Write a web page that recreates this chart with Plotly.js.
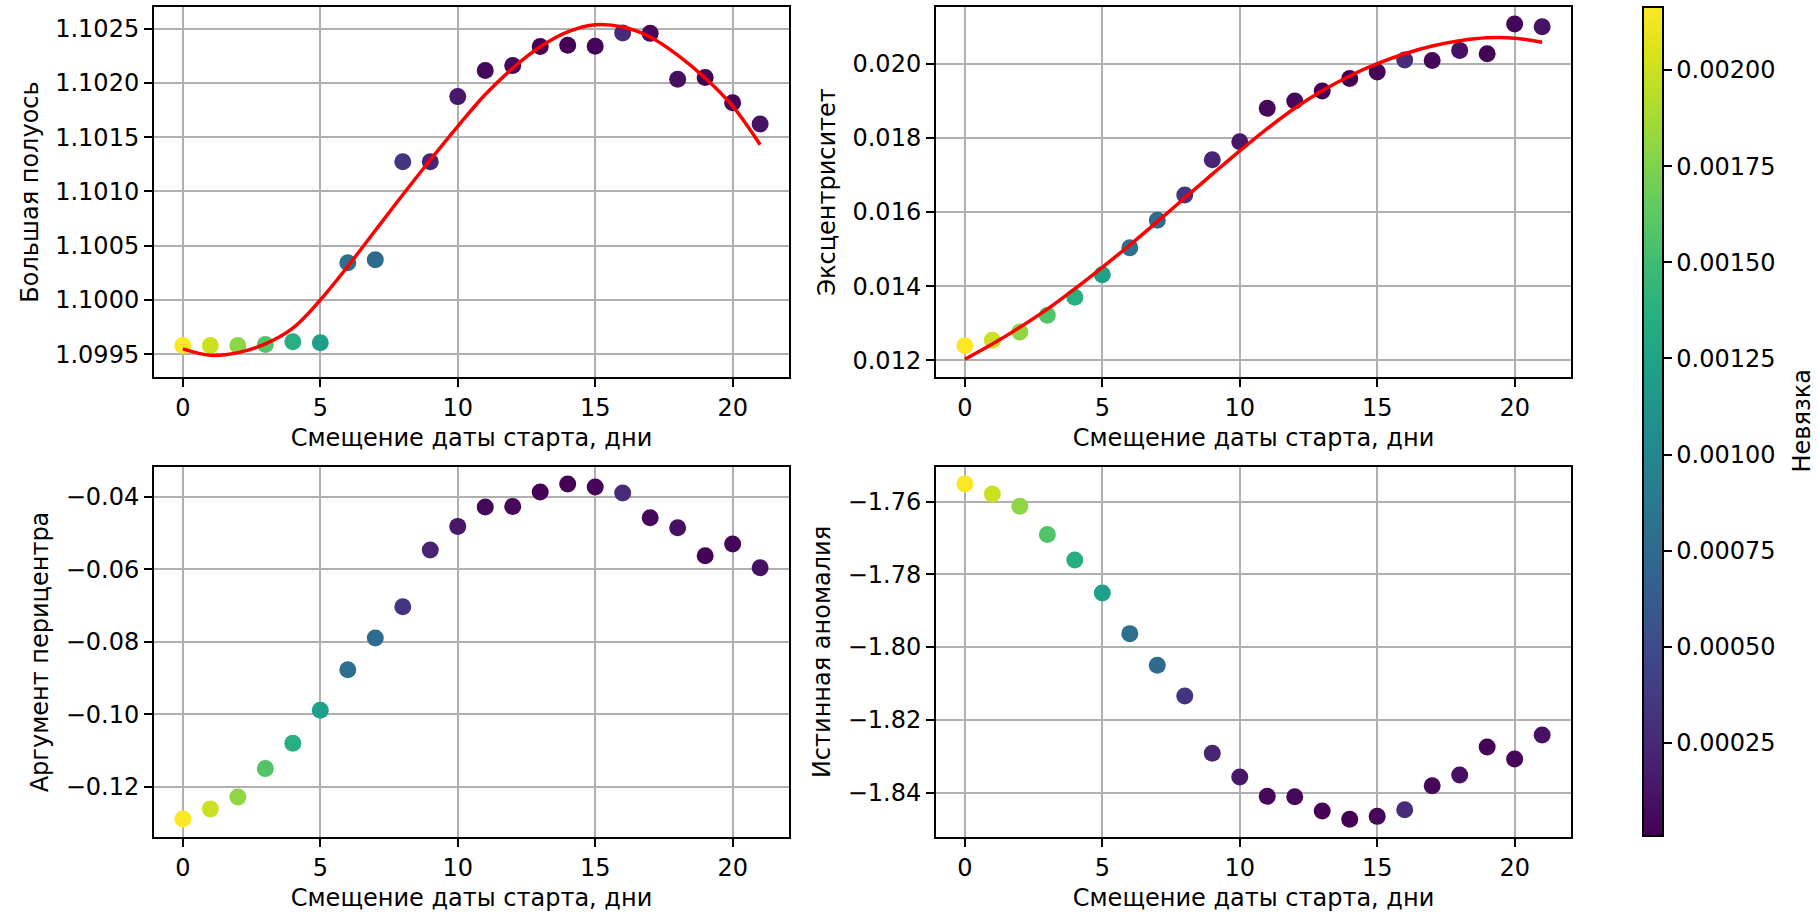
<!DOCTYPE html>
<html><head><meta charset="utf-8">
<script src="https://cdn.plot.ly/plotly-3.0.1.min.js"></script>
<style>html,body{margin:0;padding:0;background:#fff}#chart{width:1819px;height:916px}</style>
</head><body><div id="chart"></div>
<script>
const days = [0,1,2,3,4,5,6,7,8,9,10,11,12,13,14,15,16,17,18,19,20,21];
const residual = [0.002164,0.00200,0.00180,0.00158,0.00136,0.00123,0.00080,0.00076,0.00033,0.00022,0.00014,0.00005,0.00005,0.00002,0.000008,0.00004,0.00027,0.00005,0.00010,0.00002,0.00004,0.00011];
const semiMajor = [1.09958,1.09958,1.09958,1.09959,1.099615,1.099606,1.100344,1.100371,1.101273,1.101273,1.101874,1.102114,1.10216,1.102336,1.102348,1.102339,1.102461,1.102457,1.102035,1.10205,1.101817,1.101622];
const semiMajorFit = [1.099549,1.099490,1.099515,1.099595,1.099740,1.100000,1.100310,1.100640,1.100970,1.101290,1.101600,1.101893,1.102136,1.102333,1.10247,1.102536,1.102515,1.102424,1.102257,1.102045,1.101786,1.10143];
const eccentricity = [0.012396,0.01254,0.012764,0.013213,0.013699,0.01431,0.015038,0.015775,0.016458,0.017411,0.017897,0.018796,0.018993,0.019263,0.019604,0.019775,0.020099,0.02009,0.02036,0.02027,0.02107,0.020998];
const eccentricityFit = [0.01203,0.01244,0.01289,0.01338,0.01393,0.01451,0.01511,0.01574,0.01638,0.01702,0.01765,0.01825,0.01880,0.01927,0.01967,0.02000,0.02027,0.02048,0.02062,0.02070,0.02069,0.02058];
const argPericenter = [-0.12882,-0.12606,-0.12275,-0.11495,-0.10797,-0.09887,-0.08767,-0.07894,-0.0703,-0.05469,-0.04817,-0.04285,-0.04266,-0.03871,-0.03651,-0.03734,-0.03899,-0.04579,-0.04854,-0.05625,-0.05304,-0.05956];
const trueAnomaly = [-1.75514,-1.75789,-1.76128,-1.76907,-1.77604,-1.78511,-1.7963,-1.805,-1.81344,-1.8292,-1.83571,-1.84103,-1.84112,-1.84506,-1.84735,-1.84653,-1.8447,-1.8381,-1.83516,-1.82746,-1.83076,-1.82416];

const xTicks = [0,5,10,15,20];
const xTitle = 'Смещение даты старта, дни';
const yTitles = ['Большая полуось','Эксцентриситет','Аргумент перицентра','Истинная аномалия'];
const yTicksA = [1.0995,1.1000,1.1005,1.1010,1.1015,1.1020,1.1025];
const yTicksB = [0.012,0.014,0.016,0.018,0.020];
const yTicksC = [-0.12,-0.10,-0.08,-0.06,-0.04];
const yTicksD = [-1.84,-1.82,-1.80,-1.78,-1.76];
const cbTicks = [0.00025,0.0005,0.00075,0.001,0.00125,0.0015,0.00175,0.002];
const cbTitle = 'Невязка';

const W = 1819, H = 916;
const FONT = {family: 'DejaVu Sans', size: 24, color: '#000'};
const cmin = 0.000008, cmax = 0.002164;

function marker(showscale) {
  const m = {color: residual, colorscale: 'Viridis', cmin: cmin, cmax: cmax, size: 17, line: {width: 0}, showscale: showscale};
  if (showscale) {
    m.colorbar = {
      x: 1643 / W, xanchor: 'left', xref: 'paper',
      y: 1 - 7 / H, yanchor: 'top', yref: 'paper',
      len: 829, lenmode: 'pixels', thickness: 20, thicknessmode: 'pixels',
      xpad: 0, ypad: 0, outlinewidth: 2, outlinecolor: '#000',
      tickvals: cbTicks, tickformat: '.5f', ticks: 'outside', ticklen: 8, tickwidth: 2, tickcolor: '#000',
      tickfont: FONT
    };
  }
  return m;
}

const traces = [
  {x: days, y: semiMajor, mode: 'markers', type: 'scatter', marker: marker(true), xaxis: 'x', yaxis: 'y'},
  {x: days, y: semiMajorFit, mode: 'lines', type: 'scatter', line: {color: 'red', width: 3.5, shape: 'spline', smoothing: 1}, xaxis: 'x', yaxis: 'y'},
  {x: days, y: eccentricity, mode: 'markers', type: 'scatter', marker: marker(false), xaxis: 'x2', yaxis: 'y2'},
  {x: days, y: eccentricityFit, mode: 'lines', type: 'scatter', line: {color: 'red', width: 3.5, shape: 'spline', smoothing: 1}, xaxis: 'x2', yaxis: 'y2'},
  {x: days, y: argPericenter, mode: 'markers', type: 'scatter', marker: marker(false), xaxis: 'x3', yaxis: 'y3'},
  {x: days, y: trueAnomaly, mode: 'markers', type: 'scatter', marker: marker(false), xaxis: 'x4', yaxis: 'y4'}
];

const common = {
  showline: true, mirror: true, linecolor: '#000', linewidth: 2,
  ticks: 'outside', ticklen: 8, tickwidth: 2, tickcolor: '#000',
  showgrid: true, gridcolor: '#b0b0b0', gridwidth: 2, zeroline: false,
  tickfont: FONT
};
function xa(domain, anchor) {
  return Object.assign({}, common, {domain: domain, anchor: anchor, range: [-1.05, 22.05], tickvals: xTicks,
    title: {text: xTitle, font: FONT, standoff: 8}});
}
function ya(domain, anchor, range, ticks, fmt, title) {
  return Object.assign({}, common, {domain: domain, anchor: anchor, range: range, tickvals: ticks, tickformat: fmt,
    title: {text: title, font: FONT, standoff: 10}});
}
const xl = [154 / W, 789 / W], xr = [936 / W, 1571 / W];
const yt = [1 - 377 / H, 1 - 7 / H], yb = [1 - 837 / H, 1 - 467 / H];

const layout = {
  width: W, height: H, margin: {l: 0, r: 0, t: 0, b: 0},
  paper_bgcolor: '#fff', plot_bgcolor: '#fff', showlegend: false, font: FONT,
  xaxis: xa(xl, 'y'), yaxis: ya(yt, 'x', [1.09929, 1.10270], yTicksA, '.4f', yTitles[0]),
  xaxis2: xa(xr, 'y2'), yaxis2: ya(yt, 'x2', [0.01155, 0.02153], yTicksB, '.3f', yTitles[1]),
  xaxis3: xa(xl, 'y3'), yaxis3: ya(yb, 'x3', [-0.1338, -0.0318], yTicksC, '.2f', yTitles[2]),
  xaxis4: xa(xr, 'y4'), yaxis4: ya(yb, 'x4', [-1.8522, -1.7505], yTicksD, '.2f', yTitles[3]),
  annotations: [{text: cbTitle, xref: 'paper', yref: 'paper', x: 1801 / W, y: 1 - 421.5 / H,
    xanchor: 'center', yanchor: 'middle', textangle: -90, showarrow: false, font: FONT}]
};

Plotly.newPlot('chart', traces, layout, {displayModeBar: false, staticPlot: true});
</script>
</body></html>
